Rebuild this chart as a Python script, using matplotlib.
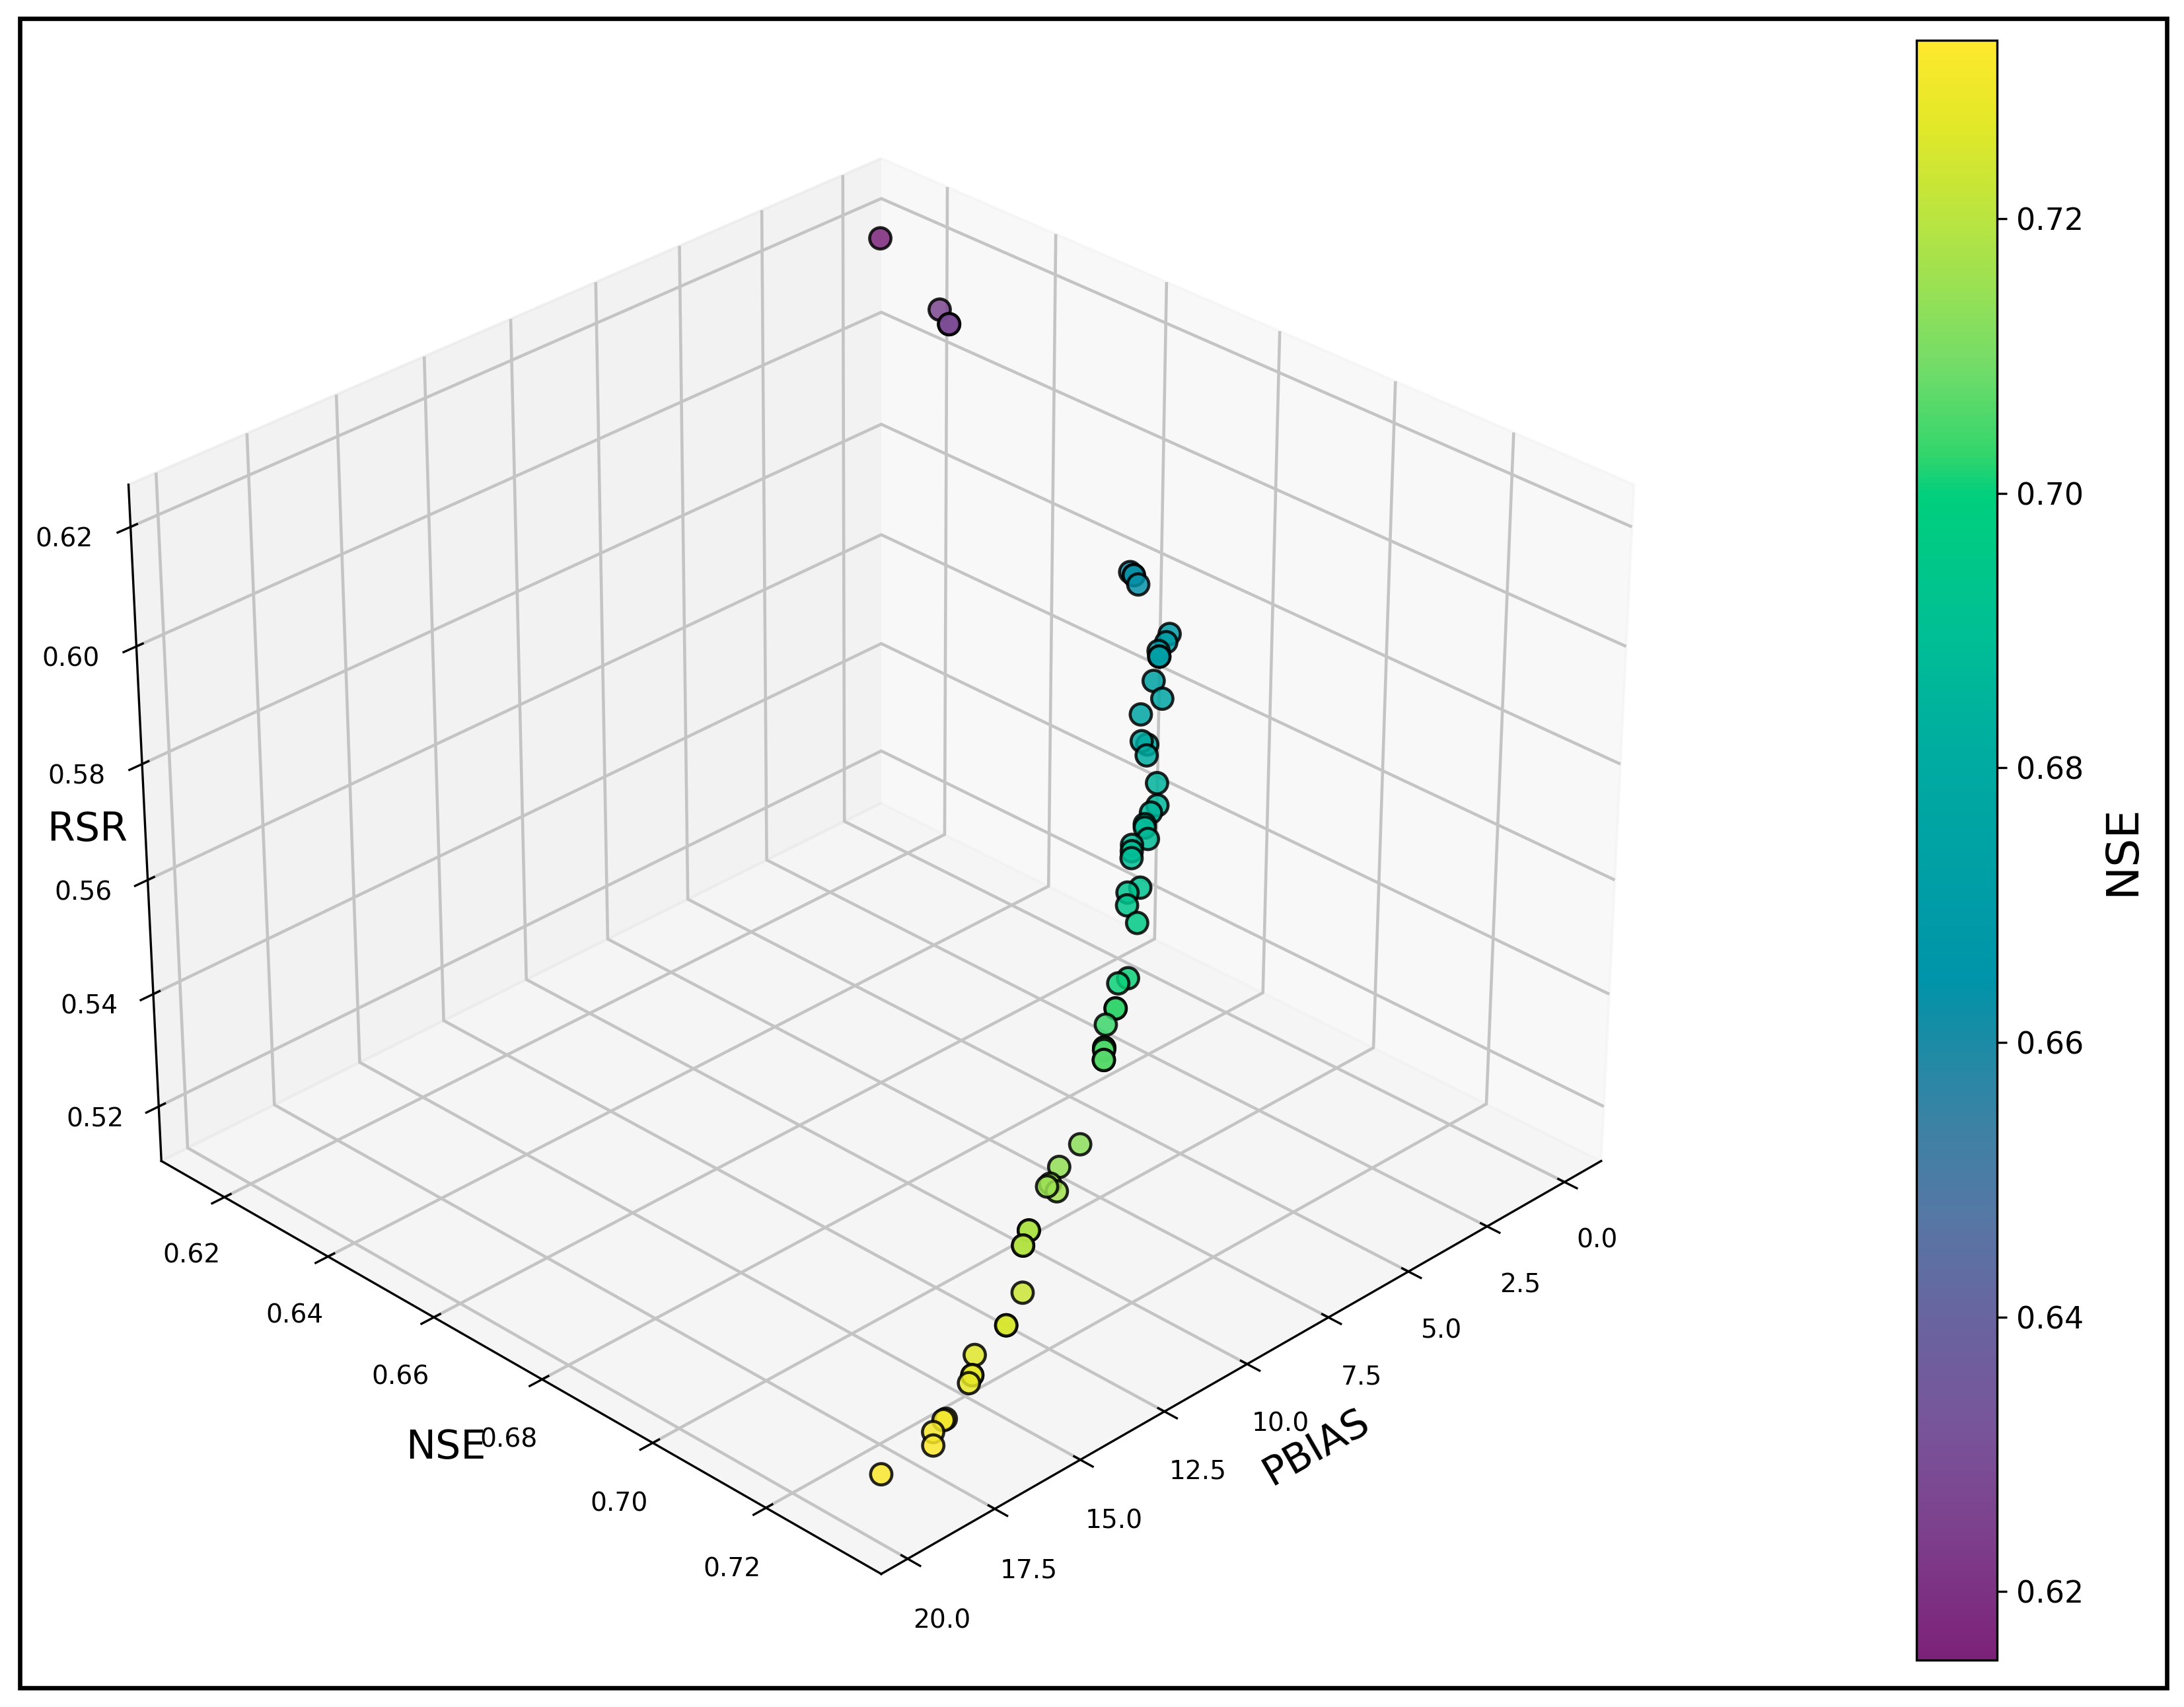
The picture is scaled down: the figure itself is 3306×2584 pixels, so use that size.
import matplotlib
matplotlib.use('Agg')
import matplotlib.pyplot as plt
from matplotlib.patches import Rectangle
from matplotlib.colors import LinearSegmentedColormap, Normalize
from matplotlib.cm import ScalarMappable
import numpy as np

pbias = [0.19,0.07,0.11,0.11,0.17,0.14,0.19,0.30,0.51,0.84,0.92,1.46,1.55,2.31,2.73,2.66,2.85,3.06,3.41,3.68,
         4.01,4.06,4.17,4.63,4.74,4.85,5.13,5.49,5.71,5.76,6.83,7.13,7.57,8.04,8.43,8.47,8.63,
         10.42,11.22,11.66,11.77,11.63,12.82,13.16,13.85,14.67,15.76,16.10,16.28,17.27,17.34,17.72,17.90,19.39,
         0.14,0.92,7.57,8.43,8.63,12.82,13.16,14.67,16.10]
nse = [0.6158,0.6262,0.6282,0.6282,0.6621,0.6626,0.6637,0.6701,0.6707,0.6712,0.6718,0.6739,0.6760,0.6765,0.6791,0.6797,0.6807,0.6838,0.6859,0.6863,
       0.6871,0.6874,0.6886,0.6884,0.6890,0.6896,0.6928,0.6926,0.6938,0.6959,0.7005,0.7005,0.7026,0.7036,0.7056,0.7058,0.7067,
       0.7130,0.7140,0.7150,0.7151,0.7160,0.7181,0.7191,0.7231,0.7251,0.7261,0.7277,0.7282,0.7301,0.7301,0.7306,0.7317,0.7317,
       0.6626,0.6718,0.7026,0.7056,0.7067,0.7181,0.7191,0.7251,0.7277]
rsr = [0.6198,0.6114,0.6098,0.6098,0.5813,0.5809,0.5799,0.5744,0.5738,0.5734,0.5729,0.5711,0.5692,0.5688,0.5665,0.5660,0.5651,0.5623,0.5604,0.5601,
       0.5594,0.5591,0.5580,0.5582,0.5577,0.5571,0.5543,0.5544,0.5534,0.5515,0.5473,0.5473,0.5453,0.5444,0.5426,0.5424,0.5416,
       0.5357,0.5348,0.5338,0.5337,0.5329,0.5310,0.5300,0.5262,0.5243,0.5233,0.5218,0.5213,0.5195,0.5195,0.5190,0.5179,0.5180,
       0.5809,0.5729,0.5453,0.5426,0.5416,0.5310,0.5300,0.5243,0.5218]
nse_ticks = [0.62,0.64,0.66,0.68,0.70,0.72]

stops=[0,.015,.08,.145,.21,.275,.33,.385,.42,.49,.56,.63,.72,.745,.8,.89,.95,1]
cols=[(122,34,120),(125,40,125),(125,65,140),(120,85,155),(105,100,160),(85,120,165),(60,130,165),(25,140,165),(0,148,170),(0,160,165),(0,172,160),(0,190,150),(0,207,125),(50,213,108),(115,220,105),(185,228,65),(226,232,40),(255,232,45)]
cmap=LinearSegmentedColormap.from_list('v',[(s,tuple(v/255 for v in c)) for s,c in zip(stops,cols)])

W,H=3306,2584
fig=plt.figure(figsize=(W/300,H/300),dpi=300)
ax=fig.add_axes([0.0055,0.027,0.776,0.9475],projection='3d')
norm=Normalize(.615,.733)
ax.scatter(pbias,nse,rsr,c=nse,cmap=cmap,norm=norm,s=60,alpha=0.85,edgecolors='k',linewidths=1.1,depthshade=False)
ax.view_init(elev=30,azim=45)
ax.set_xlim(-1.2,20.75); ax.set_ylim(0.6076,0.7399); ax.set_zlim(0.5102,0.6270)
ax.set_yticks(nse_ticks)
ax.set_xlabel('PBIAS',fontsize=14.5); ax.set_ylabel('NSE',fontsize=14.5); ax.set_zlabel('RSR',fontsize=14.5,labelpad=-9)
ax.tick_params(labelsize=9.4,pad=5.5)
for a in (ax.xaxis,ax.yaxis,ax.zaxis):
    a._axinfo['grid'].update(color='#c4c4c4',linewidth=1.1)
cax=fig.add_axes([2901/W,1-2513/H,122/W,2452/H])
cb=fig.colorbar(ScalarMappable(norm,cmap),cax=cax); cb.set_label('NSE',fontsize=16.4,labelpad=6); cb.ax.tick_params(labelsize=11)
fig.add_artist(Rectangle((30/W,1-2555/H),3250/W,2527/H,fill=False,ec='k',lw=1.6,transform=fig.transFigure))
fig.savefig('out.png',dpi=300)
